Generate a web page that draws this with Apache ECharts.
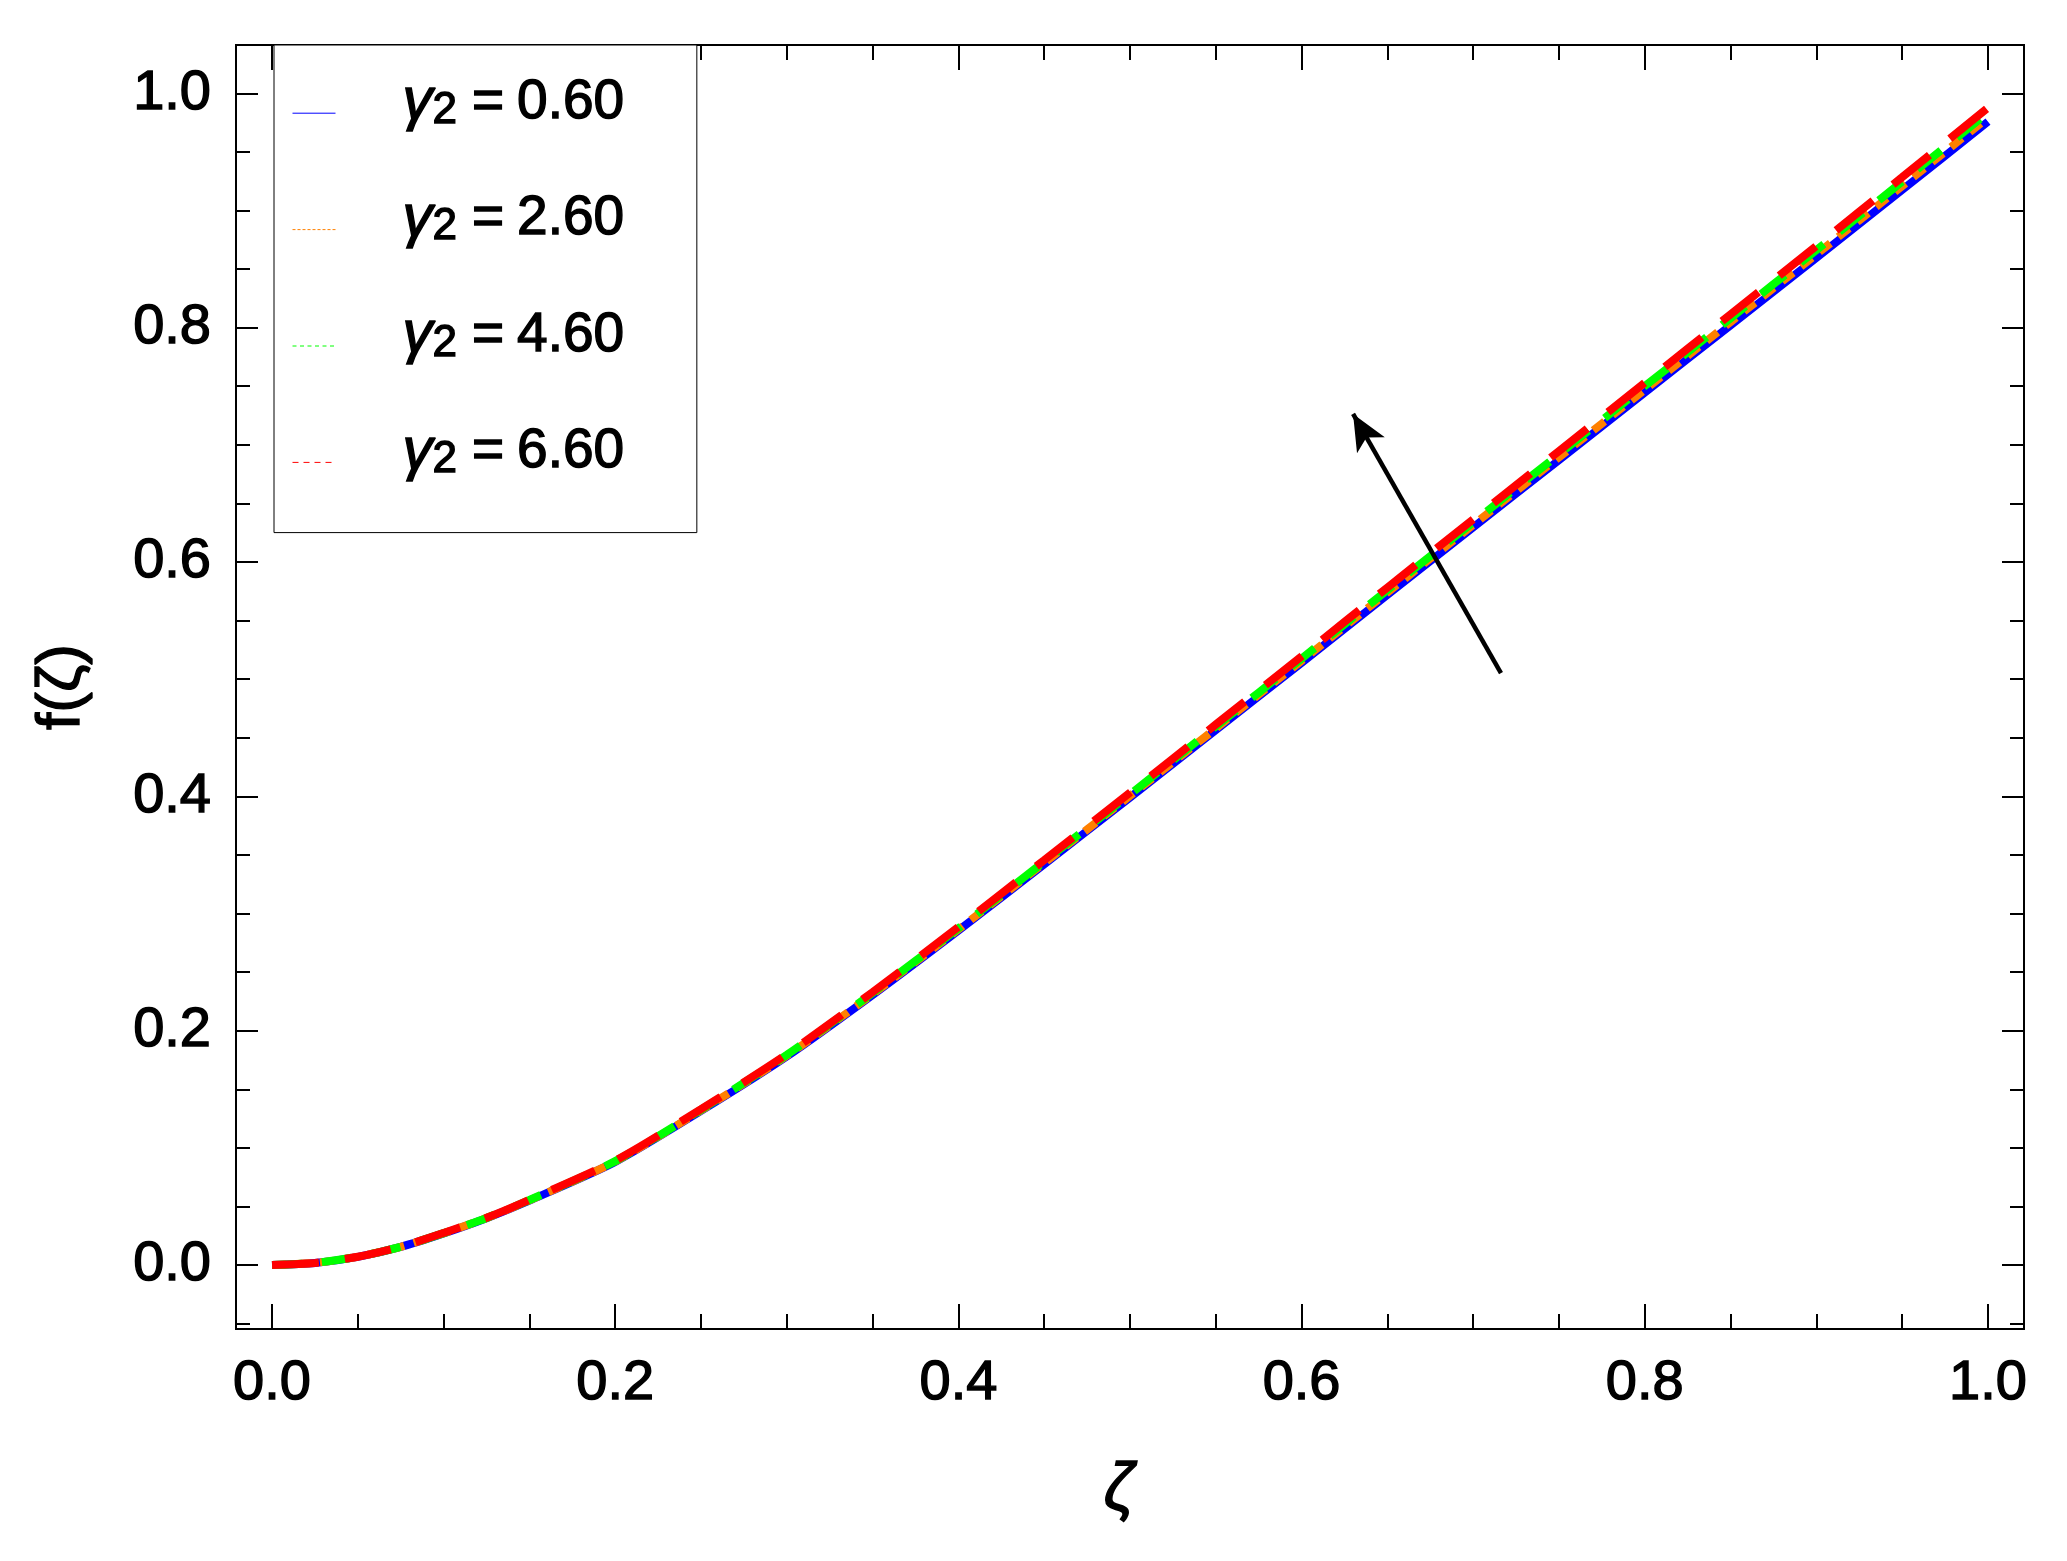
<!DOCTYPE html>
<html>
<head>
<meta charset="utf-8">
<script src="https://cdn.jsdelivr.net/npm/echarts@6/dist/echarts.min.js"></script>
<style>
html,body{margin:0;padding:0;background:#fff;}
#chart{width:2067px;height:1561px;}
</style>
</head>
<body>
<div id="chart"></div>
<script>
// ---- data ----
const zeta = [0, 0.025, 0.05, 0.075, 0.10, 0.125, 0.15, 0.20, 0.25, 0.30, 0.35, 0.40, 0.45, 0.50,
              0.55, 0.60, 0.65, 0.70, 0.75, 0.80, 0.85, 0.90, 0.95, 1.00];
const f_g060 = [0, 0.0018, 0.0070, 0.0155, 0.0270, 0.0400, 0.0550, 0.0880, 0.1315, 0.1780, 0.2305, 0.2855, 0.3420, 0.3990,
                0.4565, 0.5140, 0.5720, 0.6295, 0.6870, 0.7445, 0.8020, 0.8595, 0.9175, 0.9758];
const f_g260 = [0, 0.0018, 0.0070, 0.0155, 0.0271, 0.0401, 0.0552, 0.0883, 0.1319, 0.1786, 0.2312, 0.2864, 0.3431, 0.4003,
                0.4579, 0.5156, 0.5739, 0.6316, 0.6893, 0.7470, 0.8048, 0.8625, 0.9208, 0.9793];
const f_g460 = [0, 0.0018, 0.0071, 0.0156, 0.0272, 0.0402, 0.0555, 0.0887, 0.1325, 0.1793, 0.2321, 0.2874, 0.3443, 0.4017,
                0.4596, 0.5176, 0.5760, 0.6340, 0.6920, 0.7500, 0.8080, 0.8661, 0.9246, 0.9835];
const f_g660 = [0, 0.0018, 0.0071, 0.0156, 0.0274, 0.0403, 0.0557, 0.0891, 0.1330, 0.1799, 0.2329, 0.2885, 0.3456, 0.4032,
                0.4613, 0.5195, 0.5782, 0.6364, 0.6947, 0.7529, 0.8113, 0.8696, 0.9284, 0.9876];
const seriesNames = ['γ2 = 0.60', 'γ2 = 2.60', 'γ2 = 4.60', 'γ2 = 6.60'];
const gammaValues = ['0.60', '2.60', '4.60', '6.60'];
const xMajorTicks = [0, 0.2, 0.4, 0.6, 0.8, 1.0];
const xMinorTicks = [0.05, 0.1, 0.15, 0.25, 0.3, 0.35, 0.45, 0.5, 0.55, 0.65, 0.7, 0.75, 0.85, 0.9, 0.95];
const yMajorTicks = [0, 0.2, 0.4, 0.6, 0.8, 1.0];
const yMinorTicks = [-0.05, 0.05, 0.1, 0.15, 0.25, 0.3, 0.35, 0.45, 0.5, 0.55, 0.65, 0.7, 0.75, 0.85, 0.9, 0.95];
const xRange = [-0.021, 1.021];
const yRange = [-0.0546, 1.0412];
const arrowFrom = [0.7162, 0.5052];
const arrowTo = [0.6300, 0.7263];

// ---- styling ----
const FONT = '"Liberation Sans", Arial, Helvetica, sans-serif';
const colors = ['#0000FF', '#FF8000', '#00FF00', '#FF0000'];
const mainDash = ['solid', [14, 10], [30, 20], [47, 26]];
const legendDash = ['solid', [3, 2], [4, 3.5], [6, 5]];
const allValues = [f_g060, f_g260, f_g460, f_g660];
const heavy = { textBorderColor: '#000', textBorderWidth: 1.4 };

function pairs(ys) { return zeta.map((z, i) => [z, ys[i]]); }

const labelStyle = Object.assign({ fontSize: 56, fontWeight: 'normal', color: '#000', fontFamily: FONT }, heavy);

function xAxisDef(pos, ticks, len, labels) {
  return {
    type: 'value', gridIndex: 0, position: pos, min: xRange[0], max: xRange[1],
    axisLine: { show: true, onZero: false, lineStyle: { color: '#000', width: 2 } },
    axisTick: { show: true, inside: true, length: len, customValues: ticks, lineStyle: { color: '#000', width: 2 } },
    axisLabel: Object.assign({ show: labels, customValues: ticks, margin: 27,
                 formatter: v => Number(v).toFixed(1) }, labelStyle),
    splitLine: { show: false }
  };
}
function yAxisDef(pos, ticks, len, labels) {
  return {
    type: 'value', gridIndex: 0, position: pos, min: yRange[0], max: yRange[1],
    axisLine: { show: true, onZero: false, lineStyle: { color: '#000', width: 2 } },
    axisTick: { show: true, inside: true, length: len, customValues: ticks, lineStyle: { color: '#000', width: 2 } },
    axisLabel: Object.assign({ show: labels, customValues: ticks, margin: 25,
                 formatter: v => Number(v).toFixed(1) }, labelStyle),
    splitLine: { show: false }
  };
}

const xAxes = [
  Object.assign(xAxisDef('bottom', xMajorTicks, 25, true), {
    name: 'ζ', nameLocation: 'middle', nameGap: 130,
    nameTextStyle: Object.assign({ fontSize: 66, fontStyle: 'italic', color: '#000', fontFamily: FONT,
                                   padding: [0, 22, 0, 0] }, heavy)
  }),
  xAxisDef('bottom', xMinorTicks, 15, false),
  xAxisDef('top', xMajorTicks, 25, false),
  xAxisDef('top', xMinorTicks, 15, false)
];
const yAxes = [
  Object.assign(yAxisDef('left', yMajorTicks, 22, true), {
    name: 'f(ζ)', nameLocation: 'middle', nameGap: 143, nameRotate: 90,
    nameTextStyle: Object.assign({ fontSize: 62, color: '#000', fontFamily: FONT }, heavy)
  }),
  yAxisDef('left', yMinorTicks, 14, false),
  yAxisDef('right', yMajorTicks, 22, false),
  yAxisDef('right', yMinorTicks, 14, false)
];

const series = allValues.map((vals, i) => ({
  name: seriesNames[i], type: 'line', xAxisIndex: 0, yAxisIndex: 0,
  data: pairs(vals), smooth: 0.25, symbol: 'none', showSymbol: false,
  lineStyle: { color: colors[i], width: 8, type: mainDash[i], cap: 'butt' },
  itemStyle: { color: colors[i] },
  z: 2 + i
}));
series[3].markLine = {
  silent: true, symbol: ['none', 'arrow'], symbolSize: [24, 36],
  label: { show: false },
  lineStyle: { color: '#000', width: 4.5, type: 'solid' },
  emphasis: { disabled: true },
  animation: false,
  data: [[{ coord: arrowFrom }, { coord: arrowTo }]]
};

const richBase = Object.assign({ fontFamily: FONT, color: '#000' }, heavy);
const option = {
  animation: false,
  backgroundColor: '#fff',
  grid: { left: 236, right: 43, top: 45, bottom: 232, containLabel: false, outerBoundsMode: 'none' },
  xAxis: xAxes,
  yAxis: yAxes,
  legend: {
    orient: 'vertical', left: 274, top: 45,
    padding: [27, 72, 50, 18],
    itemGap: 55, itemWidth: 43, itemHeight: 14,
    borderColor: '#000', borderWidth: 1, backgroundColor: '#fff',
    selectedMode: false,
    itemStyle: { color: 'rgba(0,0,0,0)', borderWidth: 0, opacity: 0 },
    data: seriesNames.map((n, i) => ({
      name: n,
      itemStyle: { color: 'rgba(0,0,0,0)', borderWidth: 0, opacity: 0 },
      lineStyle: { width: 1, type: legendDash[i], color: colors[i], opacity: 1 }
    })),
    formatter: function (name) {
      const idx = seriesNames.indexOf(name);
      return '{g|γ}{s|2}{e|=}{t|' + gammaValues[idx] + '}';
    },
    textStyle: {
      padding: [0, 0, 21, 62],
      color: '#000', fontFamily: FONT, fontSize: 56,
      rich: {
        g: Object.assign({ fontSize: 60, fontStyle: 'italic', lineHeight: 60 }, richBase),
        s: Object.assign({ fontSize: 44, lineHeight: 26, verticalAlign: 'bottom' }, richBase),
        e: Object.assign({ fontSize: 55, lineHeight: 60, padding: [0, 13, 0, 15] }, richBase),
        t: Object.assign({ fontSize: 55, lineHeight: 60 }, richBase)
      }
    }
  },
  series: series
};

const chart = echarts.init(document.getElementById('chart'), null, { renderer: 'canvas' });
chart.setOption(option);
</script>
</body>
</html>
